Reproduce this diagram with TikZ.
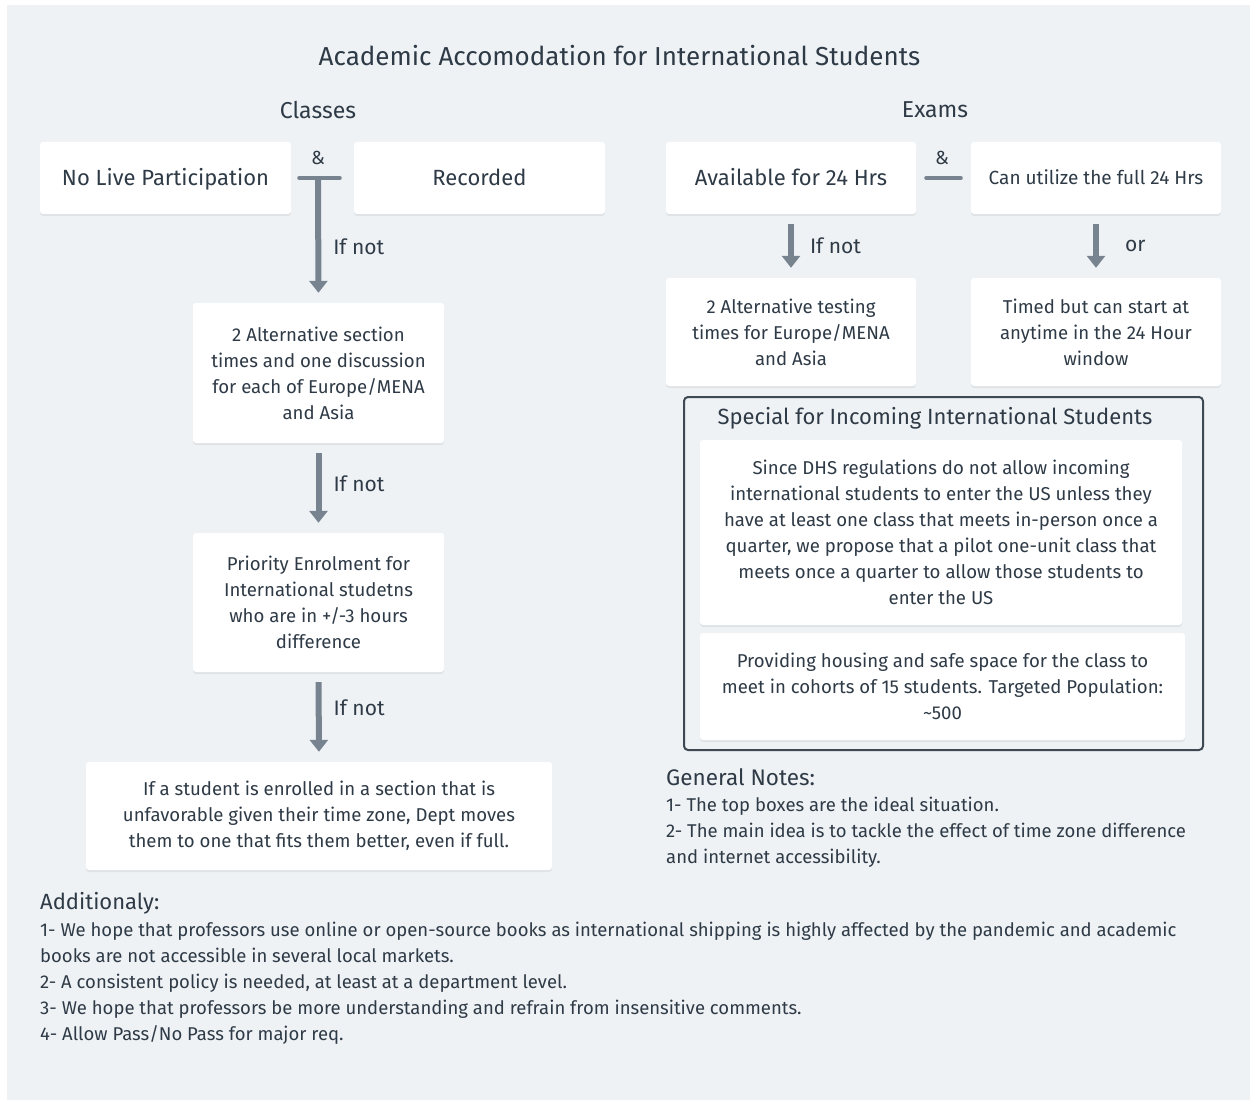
\documentclass[tikz,border=0pt]{standalone}
\usepackage{fontspec}
\setmainfont{Fira Sans}
\usetikzlibrary{arrows.meta,positioning,shadows,calc}

\definecolor{panelbg}{HTML}{EFF2F5}
\definecolor{inkdark}{HTML}{2E3A46}
\definecolor{arrowgray}{HTML}{77838F}
\definecolor{framegray}{HTML}{3E4953}

\tikzset{
  card/.style={fill=white, rounded corners=3pt, text=inkdark, align=center, inner sep=0pt,
    drop shadow={shadow xshift=0pt, shadow yshift=-2pt, opacity=0.06, fill=black}},
  bigcard/.style={card, font=\fontsize{22}{26}\selectfont, minimum width=251pt, minimum height=72pt,
    text height=15pt, text depth=0pt},
  smallcard/.style={card, font=\fontsize{18.6}{26}\selectfont},
  flow/.style={draw=arrowgray, line width=6pt, shorten <=10pt, shorten >=10pt,
    -{Triangle[length=12pt,width=18pt]}},
  joinbar/.style={draw=arrowgray, line width=4pt, line cap=round},
  caption/.style={text=inkdark, inner sep=0pt, font=\fontsize{22}{26}\selectfont},
  iflabel/.style={caption, anchor=west, font=\fontsize{21}{24}\selectfont},
  notes/.style={text=inkdark, inner sep=0pt, align=left, anchor=west, font=\fontsize{18.5}{26}\selectfont},
}

\begin{document}
\begin{tikzpicture}[x=1pt, y=-1pt]
	% page and panel
	\useasboundingbox (0,0) rectangle (1253,1102);
	\fill[white] (0,0) rectangle (1253,1102);
	\fill[panelbg] (7,5) rectangle (1250,1100);
	
	% title and column heads
	\node[caption, font=\fontsize{26}{30}\selectfont] (title) at (619.5,56) {Academic Accomodation for International Students};
	\node[caption, font=\fontsize{23}{26}\selectfont] (classes) at (318,110) {Classes};
	\node[caption, font=\fontsize{23}{26}\selectfont] (exams) at (935,110) {Exams};
	
	% classes column
	\node[bigcard] (nolive) at (165.5,178) {No Live Participation};
	\node[bigcard] (recorded) at (479.5,178) {Recorded};
	\node[caption, font=\fontsize{19}{20}\selectfont] (andleft) at (318,158) {\&};
	\coordinate (cjoin) at (318,178);
	\draw[joinbar] ([xshift=8pt]nolive.east) -- ([xshift=-14pt]recorded.west);
	
	\node[smallcard, minimum width=251pt, minimum height=140pt] (altsec) at (318.5,373)
		{2 Alternative section\\ times and one discussion\\ for each of Europe/MENA\\ and Asia};
	\node[smallcard, minimum width=251pt, minimum height=139pt] (priority) at (318.5,602.5)
		{Priority Enrolment for\\ International studetns\\ who are in +/-3 hours\\ difference};
	\node[smallcard, minimum width=466pt, minimum height=108pt] (moves) at (319,816)
		{If a student is enrolled in a section that is\\ unfavorable given their time zone, Dept moves\\ them to one that fits them better, even if full.};
	
	\draw[flow, shorten <=0pt] (cjoin) -- node[iflabel, pos=0.55, xshift=12pt] {If not} (altsec.north);
	\draw[flow] (altsec.south) -- node[iflabel, pos=0.45, xshift=12pt] {If not} (priority.north);
	\draw[flow] (priority.south) -- node[iflabel, pos=0.4, xshift=12pt] {If not} (moves.north);
	
	% exams column
	\node[bigcard, minimum width=250pt] (avail) at (791,178) {Available for 24 Hrs};
	\node[bigcard, minimum width=250pt, font=\fontsize{19}{26}\selectfont, text height=13pt] (fullday) at (1096,178) {Can utilize the full 24 Hrs};
	\node[caption, font=\fontsize{19}{20}\selectfont] (andright) at (942,158) {\&};
	\draw[joinbar] ([xshift=10pt]avail.east) -- ([xshift=-10pt]fullday.west);
	
	\node[smallcard, minimum width=250pt, minimum height=108pt] (alttest) at (791,332)
		{2 Alternative testing\\ times for Europe/MENA\\ and Asia};
	\node[smallcard, minimum width=250pt, minimum height=108pt] (timed) at (1096,332)
		{Timed but can start at\\ anytime in the 24 Hour\\ window};
	\draw[flow] (avail.south) -- node[iflabel, xshift=16pt] {If not} (alttest.north);
	\draw[flow] (fullday.south) -- node[iflabel, xshift=26pt] {or} (timed.north);
	
	% special box
	\node[draw=framegray, line width=2pt, rounded corners=4pt, minimum width=519pt, minimum height=353pt] (special) at (943.5,573.5) {};
	\node[caption] (specialtitle) at (935,418) {Special for Incoming International Students};
	\node[smallcard, minimum width=482pt, minimum height=185pt] (dhs) at (941,532.5)
		{Since DHS regulations do not allow incoming\\ international students to enter the US unless they\\ have at least one class that meets in-person once a\\ quarter, we propose that a pilot one-unit class that\\ meets once a quarter to allow those students to\\ enter the US};
	\node[smallcard, minimum width=485pt, minimum height=107pt] (housing) at (942.5,686.5)
		{Providing housing and safe space for the class to\\ meet in cohorts of 15 students. Targeted Population:\\ {\textasciitilde}500};
	
	% general notes
	\node[caption, anchor=west, font=\fontsize{22.5}{26}\selectfont] (genhead) at (666,777) {General Notes:};
	\node[notes] (gennotes) at (666,832)
		{1- The top boxes are the ideal situation.\\ 2- The main idea is to tackle the effect of time zone difference\\ and internet accessibility.};
	
	% additionally
	\node[caption, anchor=west] (addhead) at (40,903) {Additionaly:};
	\node[notes] (addnotes) at (40,983)
		{1- We hope that professors use online or open-source books as international shipping is highly affected by the pandemic and academic\\
		books are not accessible in several local markets.\\
		2- A consistent policy is needed, at least at a department level.\\
		3- We hope that professors be more understanding and refrain from insensitive comments.\\
		4- Allow Pass/No Pass for major req.};
\end{tikzpicture}
\end{document}
